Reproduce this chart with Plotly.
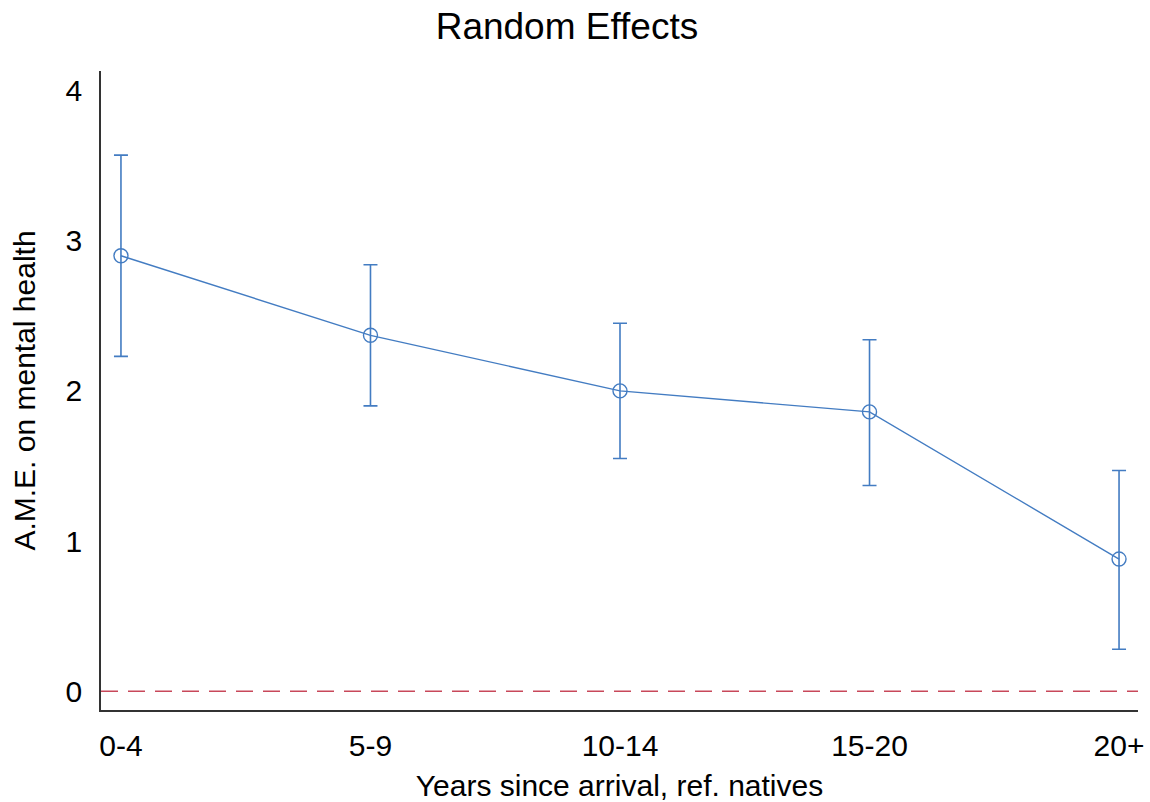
import plotly.graph_objects as go

# Average marginal effects by years since arrival (reference group: natives)
categories = ["0-4", "5-9", "10-14", "15-20", "20+"]
ame = [2.90, 2.37, 2.00, 1.86, 0.88]
ci_upper = [3.57, 2.84, 2.45, 2.34, 1.47]
ci_lower = [2.23, 1.90, 1.55, 1.37, 0.28]
reference_value = 0

BLUE = "#437cc2"
RED = "#c8485a"
FONT = "Liberation Sans, Arial, sans-serif"

x_idx = list(range(len(categories)))
err_plus = [u - m for u, m in zip(ci_upper, ame)]
err_minus = [m - l for m, l in zip(ame, ci_lower)]

fig = go.Figure()
fig.add_trace(
    go.Scatter(
        x=x_idx,
        y=ame,
        mode="lines+markers",
        line=dict(color=BLUE, width=1.4),
        marker=dict(symbol="circle-open", size=14, color=BLUE, line=dict(width=1.4)),
        error_y=dict(
            type="data",
            symmetric=False,
            array=err_plus,
            arrayminus=err_minus,
            color=BLUE,
            thickness=1.6,
            width=7,
        ),
        showlegend=False,
    )
)

fig.add_shape(
    type="line",
    xref="paper",
    x0=0,
    x1=1,
    yref="y",
    y0=reference_value,
    y1=reference_value,
    line=dict(color=RED, width=1.4, dash="17px,10px"),
    layer="below",
)

fig.update_layout(
    width=1150,
    height=802,
    paper_bgcolor="white",
    plot_bgcolor="white",
    font=dict(family=FONT, size=30, color="black"),
    margin=dict(l=101, r=12, t=71, b=92, autoexpand=False),
    title=dict(
        text="Random Effects",
        font=dict(size=37, color="black"),
        x=0.493,
        xref="container",
        xanchor="center",
        y=0.968,
        yref="container",
        yanchor="middle",
    ),
    xaxis=dict(
        range=[-0.08, 4.076],
        tickmode="array",
        tickvals=x_idx,
        ticktext=categories,
        showgrid=False,
        zeroline=False,
        showline=True,
        linecolor="#333333",
        linewidth=1.5,
        ticks="",
        automargin=False,
        ticklabelstandoff=8,
        tickfont=dict(size=30),
        title=dict(text="Years since arrival, ref. natives", font=dict(size=30), standoff=14),
    ),
    yaxis=dict(
        range=[-0.125, 4.13],
        tickmode="array",
        tickvals=[0, 1, 2, 3, 4],
        showgrid=False,
        zeroline=False,
        showline=True,
        linecolor="#333333",
        linewidth=1.5,
        ticks="",
        automargin=False,
        ticklabelstandoff=11,
        tickfont=dict(size=30),
        title=dict(text="A.M.E. on mental health", font=dict(size=30), standoff=21),
    ),
)

fig.write_html("out.html")
